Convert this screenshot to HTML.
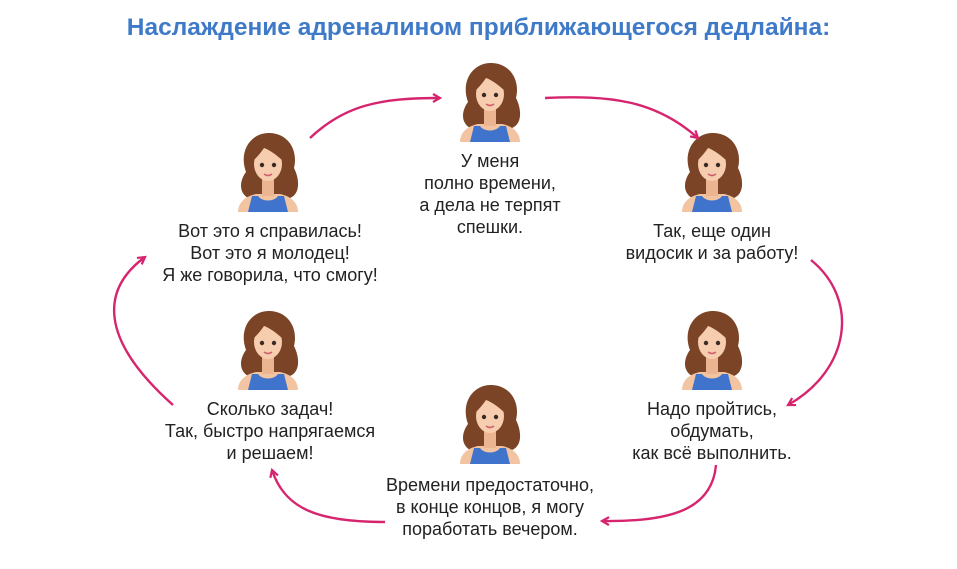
<!DOCTYPE html>
<html><head><meta charset="utf-8"><style>
body{margin:0;background:#fff;}
.w{position:relative;width:957px;height:569px;overflow:hidden;font-family:"Liberation Sans","Noto Sans CJK SC",sans-serif;}
.t{position:absolute;text-align:center;font-size:18px;line-height:22px;color:#222;width:340px;}
h1{position:absolute;left:0;width:957px;top:14px;margin:0;text-align:center;font-size:24.5px;font-weight:bold;color:#3F7AC8;}
</style></head><body><div class="w">
<svg width="957" height="569" style="position:absolute;left:0;top:0">
<defs>
<g id="g">
<path d="M10,42 C2,20 16,2 34,3 C54,4 62,22 58,38 C64,50 64,64 54,68 L12,68 C2,62 4,50 10,42Z" fill="#7B4426"/>
<path d="M2,82 C2,72 10,66 20,64 L44,64 C54,66 62,72 62,82Z" fill="#F3C4A2"/>
<rect x="26" y="46" width="12" height="20" fill="#EBB592"/>
<path d="M12,82 L16,66 L22,66 C26,72 38,72 42,66 L48,66 L52,82Z" fill="#3F73CC"/>
<ellipse cx="32" cy="34" rx="14" ry="17" fill="#F7CDB0"/>
<path d="M16,32 C14,16 26,10 36,12 C46,14 50,24 48,32 C42,26 34,20 28,18 C24,24 20,28 16,32Z" fill="#7B4426"/>
<circle cx="26" cy="35" r="2.2" fill="#3a2a22"/><circle cx="38" cy="35" r="2.2" fill="#3a2a22"/>
<path d="M28,44 Q32,47 36,44" stroke="#D0606A" stroke-width="1.6" fill="none"/>
</g>
<marker id="a" markerWidth="12" markerHeight="12" refX="8" refY="5" orient="auto" markerUnits="userSpaceOnUse"><path d="M1,1 L8,5 L1,9" fill="none" stroke="#D6246E" stroke-width="2.2"/></marker>
</defs>
<use href="#g" x="458" y="60"/>
<use href="#g" x="680" y="130"/>
<use href="#g" x="236" y="130"/>
<use href="#g" x="680" y="308"/>
<use href="#g" x="236" y="308"/>
<use href="#g" x="458" y="382"/>
<g fill="none" stroke="#D6246E" stroke-width="2.4" marker-end="url(#a)">
<path d="M310,138 C345,105 380,98 440,98"/>
<path d="M545,98 C610,95 655,100 698,138"/>
<path d="M811,260 C860,300 850,370 788,405"/>
<path d="M716,465 C712,510 670,522 602,521"/>
<path d="M385,522 C320,522 285,510 272,470"/>
<path d="M173,405 C100,340 100,290 145,257"/>
</g>
</svg>
<h1>Наслаждение адреналином приближающегося дедлайна:</h1>
<div class="t" style="left:320px;top:150px">У меня<br>полно времени,<br>а дела не терпят<br>спешки.</div>
<div class="t" style="left:542px;top:220px">Так, еще один<br>видосик и за работу!</div>
<div class="t" style="left:100px;top:220px">Вот это я справилась!<br>Вот это я молодец!<br>Я же говорила, что смогу!</div>
<div class="t" style="left:100px;top:398px">Сколько задач!<br>Так, быстро напрягаемся<br>и решаем!</div>
<div class="t" style="left:542px;top:398px">Надо пройтись,<br>обдумать,<br>как всё выполнить.</div>
<div class="t" style="left:320px;top:474px">Времени предостаточно,<br>в конце концов, я могу<br>поработать вечером.</div>
</div></body></html>
